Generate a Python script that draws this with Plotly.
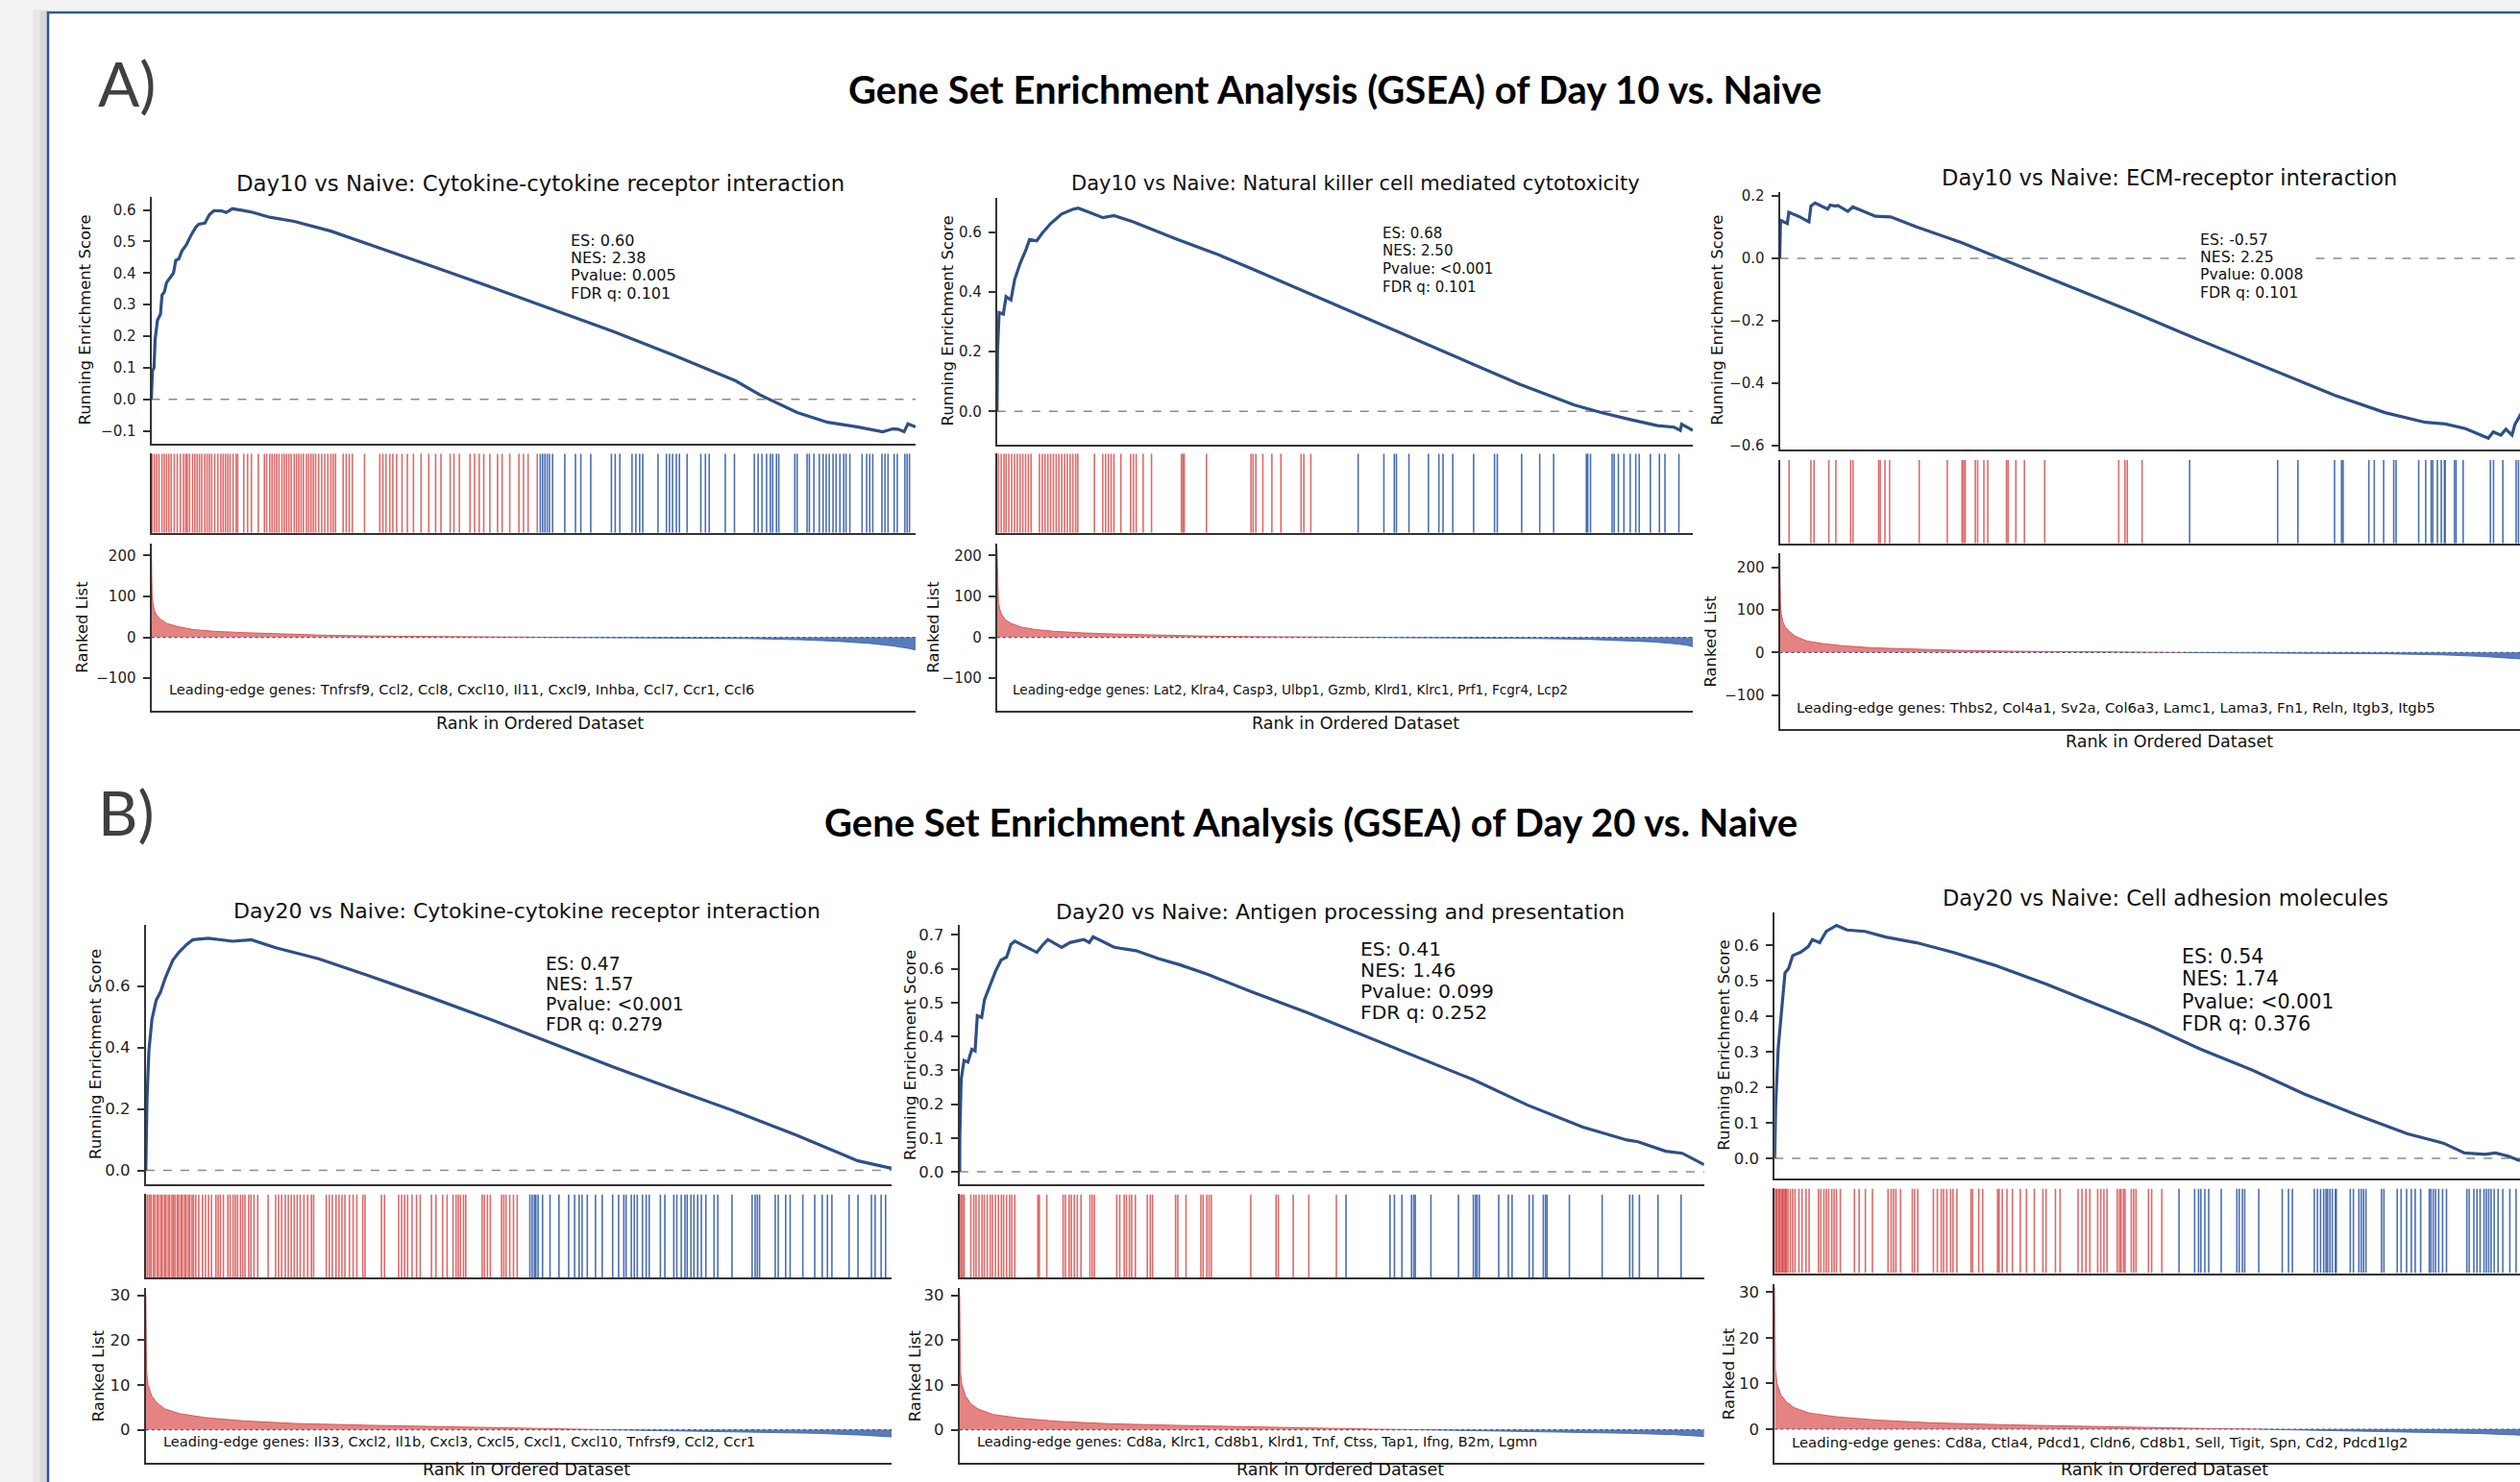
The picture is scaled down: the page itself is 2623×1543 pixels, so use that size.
import plotly.graph_objects as go

W, H = 2623, 1543

# ---------------- DATA (rank axis normalised 0-1000) ----------------
# Running enrichment score curves: (rank, ES)
A1_es = [(0, 0), (1.5, 0.09), (3.5, 0.10), (5, 0.19), (8, 0.25), (12, 0.27), (14, 0.33), (17, 0.34),
         (20, 0.37), (25, 0.385), (29, 0.40), (32, 0.44), (36, 0.445), (40, 0.47), (46, 0.49), (52, 0.52),
         (58, 0.545), (62, 0.555), (70, 0.558), (76, 0.585), (82, 0.598), (92, 0.597), (98, 0.592),
         (106, 0.604), (115, 0.600), (130, 0.594), (155, 0.577), (187, 0.564), (235, 0.533), (283, 0.493),
         (363, 0.425), (443, 0.357), (524, 0.286), (604, 0.215), (684, 0.139), (764, 0.059), (797, 0.013),
         (845, -0.042), (885, -0.073), (925, -0.088), (957, -0.103), (970, -0.094), (977, -0.095),
         (985, -0.103), (990, -0.078), (1000, -0.088)]
A2_es = [(0, 0), (0.7, 0.203), (3, 0.331), (9, 0.326), (13, 0.385), (20, 0.374), (25.4, 0.443),
         (33.3, 0.497), (41.2, 0.540), (46.8, 0.577), (57, 0.572), (65, 0.598), (77, 0.630), (92.8, 0.662),
         (108.6, 0.678), (116.5, 0.682), (132.4, 0.668), (152.3, 0.650), (168, 0.657), (195.8, 0.636),
         (259, 0.577), (314.7, 0.529), (370, 0.475), (433.6, 0.411), (512.9, 0.331), (592, 0.251),
         (671.5, 0.171), (750.8, 0.091), (830, 0.021), (869.6, -0.005), (909, -0.027), (949, -0.048),
         (973, -0.053), (982, -0.064), (984, -0.043), (1000, -0.064)]
A3_es = [(0, 0), (1, 0.122), (9.7, 0.112), (11.6, 0.148), (25.9, 0.133), (37.5, 0.117), (40, 0.168),
         (45.3, 0.178), (61.5, 0.158), (64.7, 0.171), (71.2, 0.168), (74.4, 0.170), (87.4, 0.151),
         (93.8, 0.165), (122.8, 0.135), (142.4, 0.133), (174.7, 0.102), (233, 0.051), (278.3, 0.005),
         (323.6, -0.041), (388.4, -0.107), (453, -0.171), (517.8, -0.240), (582.5, -0.306),
         (647.3, -0.372), (712, -0.438), (776.7, -0.494), (828.5, -0.525), (854, -0.530), (880, -0.545),
         (909.3, -0.576), (915.7, -0.556), (925.4, -0.566), (931.9, -0.547), (939.7, -0.566),
         (943.5, -0.532), (952, -0.495)]
B1_es = [(0, 0), (1.6, 0.233), (4.1, 0.389), (8.2, 0.492), (13.9, 0.554), (19.6, 0.580), (26.2, 0.627),
         (36.1, 0.684), (44.3, 0.710), (55, 0.736), (63.2, 0.751), (83.7, 0.756), (116.6, 0.746),
         (141.3, 0.751), (174.2, 0.725), (231.7, 0.689), (297.5, 0.635), (379.6, 0.565), (461.8, 0.492),
         (544, 0.415), (626.3, 0.337), (708.5, 0.264), (790.6, 0.192), (872.8, 0.114), (913.9, 0.0725),
         (955, 0.031), (1000, 0.007)]
B2_es = [(0, 0), (0.2, 0.103), (2, 0.273), (5.9, 0.329), (11.1, 0.324), (16.3, 0.362), (20.7, 0.357),
         (22.2, 0.428), (23.7, 0.461), (29.6, 0.456), (33.3, 0.508), (40.7, 0.550), (48.1, 0.592),
         (55.5, 0.625), (63, 0.634), (68.9, 0.672), (74.1, 0.681), (103.7, 0.648), (111.1, 0.669),
         (118.5, 0.686), (137, 0.663), (148.2, 0.677), (166.7, 0.686), (174.1, 0.677), (179.3, 0.694),
         (207.4, 0.663), (237, 0.653), (266.7, 0.630), (296.3, 0.611), (333.3, 0.583), (392.6, 0.531),
         (466.7, 0.470), (540.7, 0.404), (614.8, 0.338), (688.9, 0.273), (763, 0.197), (837.1, 0.132),
         (896.4, 0.094), (911.2, 0.089), (948.3, 0.061), (970.5, 0.055), (1000, 0.021)]
B3_es = [(0, 0), (1.3, 0.150), (4.6, 0.311), (8.6, 0.419), (13.2, 0.522), (17.9, 0.535), (23.1, 0.571),
         (33, 0.580), (43, 0.596), (48.2, 0.616), (57.5, 0.607), (66, 0.639), (79.2, 0.656), (92.5, 0.643),
         (115.6, 0.639), (142, 0.623), (181.6, 0.607), (228, 0.580), (280.8, 0.544), (346.9, 0.491),
         (413, 0.432), (479, 0.374), (545, 0.307), (611, 0.248), (677, 0.181), (743.3, 0.123),
         (809.3, 0.069), (855.6, 0.042), (882, 0.015), (908.3, 0.011), (921.6, 0.015), (938, 0.006),
         (953, -0.007)]

# Gene-set hit positions (rank), split by colour (positive / negative side)
A1_hits_pos = [1, 4, 7, 10, 14, 17, 20, 23, 26, 30, 34, 38, 42, 45, 47, 50, 54, 57, 60, 63, 66, 70, 73, 76,
               79, 83, 87, 91, 94, 97, 100, 103, 107, 111, 113, 121, 126, 131, 140, 148, 151, 155, 158, 161,
               164, 167, 171, 174, 177, 180, 183, 187, 190, 193, 196, 199, 203, 206, 209, 212, 215, 219, 223,
               227, 231, 235, 238, 241, 251, 255, 259, 263, 279, 299, 303, 307, 312, 316, 321, 328, 335, 343,
               353, 363, 372, 379, 391, 396, 403, 417, 423, 429, 435, 443, 453, 459, 469, 481, 487, 493, 505]
A1_hits_neg = [509, 512, 515, 518, 521, 525, 541, 555, 562, 575, 602, 607, 613, 629, 634, 639, 643, 663, 674,
               678, 682, 687, 691, 701, 719, 725, 730, 751, 763, 789, 794, 799, 805, 810, 813, 818, 821, 842,
               845, 858, 861, 867, 874, 879, 883, 887, 892, 896, 901, 906, 909, 914, 930, 936, 940, 944, 956,
               960, 964, 972, 976, 986, 989, 992]
A2_hits_pos = [2, 6, 10, 13, 17, 21, 25, 29, 33, 37, 41, 45, 49, 61, 65, 69, 73, 77, 81, 85, 89, 93, 97, 101,
               105, 109, 113, 116, 140, 152, 156, 160, 164, 168, 178, 192, 196, 200, 210, 222, 265, 267, 269,
               301, 365, 368, 372, 382, 395, 408, 437, 441, 451]
A2_hits_neg = [519, 556, 571, 574, 592, 620, 635, 641, 655, 685, 715, 719, 754, 780, 800, 847, 849, 853, 884,
               887, 893, 901, 910, 918, 923, 939, 952, 960, 980]
A3_hits_pos = [12, 40, 44, 63, 72, 91, 94, 127, 129, 135, 141, 179, 215, 234, 236, 238, 251, 254, 262, 267,
               291, 293, 303, 314, 340, 435, 443, 446, 465]
A3_hits_neg = [526, 639, 665, 712, 721, 723, 756, 763, 775, 788, 791, 820, 829, 836, 838, 844, 849, 853, 854,
               866, 868, 877, 912, 916, 928, 945, 948]
B1_hits_pos = [0, 2.5, 5, 7, 10, 12, 15, 17, 20, 22, 25, 27, 30, 32, 35, 37, 39, 42, 44, 47, 49, 52, 54, 57,
               59, 62, 64, 67, 71, 76, 80, 84, 88, 94, 97, 100, 104, 110, 113, 117, 120, 123, 127, 130, 133,
               138, 141, 145, 150, 164, 174, 178, 182, 187, 191, 195, 199, 203, 207, 212, 217, 222, 225, 242,
               246, 250, 255, 259, 263, 267, 273, 278, 283, 291, 294, 316, 320, 339, 343, 347, 351, 357, 363,
               368, 383, 389, 398, 404, 412, 416, 419, 422, 426, 429, 451, 454, 458, 462, 477, 480, 483, 488,
               493, 498]
B1_hits_neg = [515, 518, 521, 523, 526, 532, 542, 554, 567, 575, 581, 585, 592, 603, 612, 626, 634, 641, 644,
               651, 655, 659, 666, 671, 675, 690, 696, 708, 712, 718, 723, 726, 731, 735, 740, 745, 751, 762,
               767, 786, 813, 817, 820, 823, 844, 848, 858, 864, 881, 897, 907, 914, 920, 943, 955, 973, 978,
               986, 992]
B2_hits_pos = [0, 2, 4, 6, 15, 19, 22, 26, 30, 33, 37, 41, 44, 48, 52, 56, 59, 63, 67, 70, 74, 105, 107, 117,
               139, 142, 147, 150, 154, 158, 163, 175, 178, 181, 211, 215, 221, 224, 228, 231, 236, 252, 256,
               259, 290, 293, 304, 324, 327, 332, 335, 338, 391, 425, 428, 448, 469, 506]
B2_hits_neg = [519, 578, 584, 594, 607, 610, 612, 633, 670, 690, 693, 695, 698, 724, 737, 742, 765, 770, 784,
               787, 789, 819, 863, 900, 904, 913, 938, 969]
B3_hits_pos = [1, 2, 3, 5, 6, 7, 9, 10, 11, 13, 14, 15, 17, 20, 23, 26, 31, 35, 40, 44, 56, 59, 63, 66, 69,
               73, 76, 79, 84, 102, 108, 116, 125, 145, 149, 152, 155, 161, 176, 179, 183, 203, 208, 213, 216,
               220, 225, 228, 233, 251, 253, 261, 266, 285, 287, 291, 297, 304, 314, 322, 332, 343, 347, 359,
               365, 388, 393, 398, 403, 413, 417, 421, 425, 438, 441, 443, 446, 448, 456, 459, 462, 478, 482,
               495]
B3_hits_neg = [517, 537, 542, 545, 550, 555, 571, 591, 594, 598, 601, 619, 649, 657, 662, 690, 694, 698, 702,
               705, 707, 710, 713, 717, 718, 736, 740, 747, 750, 753, 756, 776, 779, 796, 801, 808, 814, 819,
               826, 837, 839, 842, 845, 849, 854, 859, 885, 888, 894, 898, 902, 907, 910, 913, 916, 920, 925,
               931, 940, 948]

# Ranked-list metric curves: (rank, value)
A1_rl = [(0, 215), (0.5, 150), (1, 105), (2, 85), (4, 65), (7, 54), (12, 44), (20, 34), (35, 26), (55, 19),
         (80, 15), (120, 11.5), (170, 8), (230, 5), (300, 3), (380, 1.5), (450, 0.6), (520, 0), (600, -0.6),
         (700, -1.5), (780, -3), (850, -6), (900, -10), (940, -15), (970, -21), (990, -27), (1000, -31)]
A2_rl = [(0, 215), (0.5, 150), (1, 110), (2, 85), (4, 68), (7, 55), (12, 43), (20, 34), (35, 25), (55, 19),
         (80, 15), (120, 11), (170, 8), (230, 5), (300, 3), (380, 1.5), (450, 0.6), (520, 0), (600, -0.6),
         (700, -1.5), (780, -3), (850, -5), (900, -8), (940, -11), (970, -15), (990, -19), (1000, -23)]
A3_rl = [(0, 230), (0.5, 160), (1, 115), (2, 90), (4, 72), (7, 60), (12, 50), (20, 38), (35, 27), (55, 21),
         (80, 16), (120, 11), (170, 8), (230, 5), (300, 3), (380, 1.5), (450, 0.6), (520, 0), (600, -0.6),
         (700, -1.5), (780, -3), (850, -5.5), (900, -9), (952, -15)]
B1_rl = [(0, 30), (0.5, 17), (1, 13), (3, 10), (8, 7.5), (15, 6), (25, 4.7), (45, 3.6), (80, 2.7), (130, 2.0),
         (200, 1.4), (300, 1.0), (400, 0.7), (460, 0.5), (560, 0.2), (620, 0), (700, -0.2), (800, -0.45),
         (900, -0.8), (960, -1.2), (1000, -1.6)]
B2_rl = [(0, 30), (0.5, 17), (1, 13), (3, 10), (8, 7.5), (15, 5.8), (25, 4.6), (45, 3.4), (80, 2.6),
         (130, 1.9), (200, 1.35), (300, 0.95), (400, 0.6), (480, 0.35), (560, 0.12), (620, 0), (700, -0.2),
         (800, -0.45), (900, -0.8), (960, -1.1), (1000, -1.5)]
B3_rl = [(0, 31), (0.5, 18), (1, 13), (3, 10), (8, 7.5), (15, 6), (25, 4.7), (45, 3.5), (80, 2.7), (130, 2.0),
         (200, 1.4), (300, 0.95), (400, 0.6), (480, 0.35), (560, 0.12), (620, 0), (700, -0.25), (800, -0.55),
         (900, -0.95), (953, -1.3)]

# Text content
titles = ["Day10 vs Naive: Cytokine-cytokine receptor interaction",
          "Day10 vs Naive: Natural killer cell mediated cytotoxicity",
          "Day10 vs Naive: ECM-receptor interaction",
          "Day20 vs Naive: Cytokine-cytokine receptor interaction",
          "Day20 vs Naive: Antigen processing and presentation",
          "Day20 vs Naive: Cell adhesion molecules"]
stats = [["ES: 0.60", "NES: 2.38", "Pvalue: 0.005", "FDR q: 0.101"],
         ["ES: 0.68", "NES: 2.50", "Pvalue: <0.001", "FDR q: 0.101"],
         ["ES: -0.57", "NES: 2.25", "Pvalue: 0.008", "FDR q: 0.101"],
         ["ES: 0.47", "NES: 1.57", "Pvalue: <0.001", "FDR q: 0.279"],
         ["ES: 0.41", "NES: 1.46", "Pvalue: 0.099", "FDR q: 0.252"],
         ["ES: 0.54", "NES: 1.74", "Pvalue: <0.001", "FDR q: 0.376"]]
genes = ["Leading-edge genes: Tnfrsf9, Ccl2, Ccl8, Cxcl10, Il11, Cxcl9, Inhba, Ccl7, Ccr1, Ccl6",
         "Leading-edge genes: Lat2, Klra4, Casp3, Ulbp1, Gzmb, Klrd1, Klrc1, Prf1, Fcgr4, Lcp2",
         "Leading-edge genes: Thbs2, Col4a1, Sv2a, Col6a3, Lamc1, Lama3, Fn1, Reln, Itgb3, Itgb5",
         "Leading-edge genes: Il33, Cxcl2, Il1b, Cxcl3, Cxcl5, Cxcl1, Cxcl10, Tnfrsf9, Ccl2, Ccr1",
         "Leading-edge genes: Cd8a, Klrc1, Cd8b1, Klrd1, Tnf, Ctss, Tap1, Ifng, B2m, Lgmn",
         "Leading-edge genes: Cd8a, Ctla4, Pdcd1, Cldn6, Cd8b1, Sell, Tigit, Spn, Cd2, Pdcd1lg2"]
es_ticks = [[-0.1, 0.0, 0.1, 0.2, 0.3, 0.4, 0.5, 0.6],
            [0.0, 0.2, 0.4, 0.6],
            [-0.6, -0.4, -0.2, 0.0, 0.2],
            [0.0, 0.2, 0.4, 0.6],
            [0.0, 0.1, 0.2, 0.3, 0.4, 0.5, 0.6, 0.7],
            [0.0, 0.1, 0.2, 0.3, 0.4, 0.5, 0.6]]
rl_ticks = [[-100, 0, 100, 200]] * 3 + [[0, 10, 20, 30]] * 3
main_titles = ["Gene Set Enrichment Analysis (GSEA) of Day 10 vs. Naive",
               "Gene Set Enrichment Analysis (GSEA) of Day 20 vs. Naive"]

# ---------------- LAYOUT / STYLE (pixel geometry) ----------------
geo = [
    dict(x0=157.5, x1=953, xmax=1000, es_y=(202, 461), es_r=(-0.142, 0.642), hit_y=(471, 554),
         rl_y=(565, 740), rl_r=(-179, 230), title=(562, 188, 22.8), st=(592, 248, 18.3, 16),
         gn=(173.5, 718, 14.6), res=(89, 331.5), rll=(86, 652.5), xl=(562, 753), lf=17.5, tf=15, bg=False),
    dict(x0=1037.8, x1=1762, xmax=1000, es_y=(202.7, 461.7), es_r=(-0.112, 0.718), hit_y=(471, 554),
         rl_y=(565, 740), rl_r=(-179, 230), title=(1411, 188, 21), st=(1437, 240, 18.9, 15),
         gn=(1052, 718, 13.6), res=(987, 332.5), rll=(972, 652.5), xl=(1411, 753), lf=17.5, tf=15, bg=False),
    dict(x0=1852.5, x1=W, xmax=950, es_y=(196.7, 466.7), es_r=(-0.612, 0.214), hit_y=(477.7, 565),
         rl_y=(575.7, 759.3), rl_r=(-179, 232), title=(2258, 181.7, 22.6), st=(2288, 246.7, 18.4, 15.7),
         gn=(1868, 736.7, 14.8), res=(1788, 331.7), rll=(1781, 667.5), xl=(2258, 773), lf=17.5, tf=15, bg=True),
    dict(x0=151.8, x1=928, xmax=1000, es_y=(965, 1236), es_r=(-0.0445, 0.798), hit_y=(1246.7, 1334),
         rl_y=(1345, 1528.3), rl_r=(-7.46, 31.6), title=(548.5, 950, 22), st=(566, 1005, 21.1, 18.7),
         gn=(167.7, 1506, 14.5), res=(99, 1100.5), rll=(102, 1436.7), xl=(548, 1535), lf=17.5, tf=16.5, bg=False),
    dict(x0=998.9, x1=1773.8, xmax=1000, es_y=(965, 1236), es_r=(-0.036, 0.728), hit_y=(1246.7, 1334),
         rl_y=(1345, 1528.3), rl_r=(-7.46, 31.6), title=(1395, 950.7, 22), st=(1414, 990, 22, 20.3),
         gn=(1015, 1506, 14.4), res=(947, 1100.5), rll=(952, 1436.7), xl=(1395, 1535), lf=17.5, tf=16.5, bg=False),
    dict(x0=1847.2, x1=W, xmax=953, es_y=(951.7, 1230), es_r=(-0.0565, 0.692), hit_y=(1240.7, 1329.3),
         rl_y=(1340.7, 1528.3), rl_r=(-7.45, 31.8), title=(2254, 936.7, 22.5), st=(2269, 998, 23.3, 20.6),
         gn=(1863, 1506, 14.8), res=(1795, 1091), rll=(1799, 1434.5), xl=(2253, 1535), lf=17.5, tf=16.5, bg=False),
]
es_data = [A1_es, A2_es, A3_es, B1_es, B2_es, B3_es]
hits_pos = [A1_hits_pos, A2_hits_pos, A3_hits_pos, B1_hits_pos, B2_hits_pos, B3_hits_pos]
hits_neg = [A1_hits_neg, A2_hits_neg, A3_hits_neg, B1_hits_neg, B2_hits_neg, B3_hits_neg]
rl_data = [A1_rl, A2_rl, A3_rl, B1_rl, B2_rl, B3_rl]

FONT = "DejaVu Sans"
ES_COLOR = "#2f4f86"
RED_HIT = "rgba(216,80,80,0.85)"
BLUE_HIT = "rgba(55,95,170,0.9)"
RED_FILL = "rgba(222,100,100,0.8)"
BLUE_FILL = "rgba(60,100,175,0.85)"
SPINE = "#333333"


def px(x):
    return x / W


def py(y):
    return 1 - y / H


def unzip(pairs):
    return [p[0] for p in pairs], [p[1] for p in pairs]


def vlines(ranks):
    xs, ys = [], []
    for r in ranks:
        xs += [r, r, None]
        ys += [0, 1, None]
    return xs, ys


fig = go.Figure()
layout = {}
shapes = []
annotations = []

# Page background, slide border and left shadow
shapes.append(dict(type="rect", xref="paper", yref="paper", x0=px(34), x1=px(50), y0=-0.01, y1=py(6),
                   fillcolor="#e6e6e6", line=dict(width=0), layer="below"))
shapes.append(dict(type="rect", xref="paper", yref="paper", x0=px(42), x1=px(50), y0=-0.01, y1=py(8),
                   fillcolor="#d9d9d9", line=dict(width=0), layer="below"))
shapes.append(dict(type="rect", xref="paper", yref="paper", x0=px(50), x1=1.01, y0=-0.01, y1=py(9),
                   fillcolor="white", line=dict(color="#2f5597", width=2.5), layer="below"))


def ax_name(k):
    return ("x" if k == 1 else f"x{k}"), ("y" if k == 1 else f"y{k}")


for i, g in enumerate(geo):
    ks = [3 * i + 1, 3 * i + 2, 3 * i + 3]
    ydoms = [g["es_y"], g["hit_y"], g["rl_y"]]
    for j, k in enumerate(ks):
        xa, ya = ax_name(k)
        xkey = "xaxis" if k == 1 else f"xaxis{k}"
        ykey = "yaxis" if k == 1 else f"yaxis{k}"
        layout[xkey] = dict(domain=[px(g["x0"]), min(1.0, px(g["x1"]))], range=[0, g["xmax"]], anchor=ya,
                            showline=True, linecolor=SPINE, linewidth=2, showticklabels=False, ticks="",
                            showgrid=False, zeroline=False, fixedrange=True)
        yd = ydoms[j]
        yax = dict(domain=[py(yd[1]), py(yd[0])], anchor=xa, showline=True, linecolor=SPINE, linewidth=2,
                   showgrid=False, zeroline=False, fixedrange=True)
        if j == 0:
            yax.update(range=list(g["es_r"]), tickvals=es_ticks[i], tickformat=".1f", ticks="outside",
                       ticklen=7, tickwidth=1.5, tickcolor=SPINE, ticklabelstandoff=4,
                       tickfont=dict(family=FONT, size=g["tf"], color="#222"))
        elif j == 1:
            yax.update(range=[0, 1], showticklabels=False, ticks="")
        else:
            yax.update(range=list(g["rl_r"]), tickvals=rl_ticks[i], tickformat="d", ticks="outside",
                       ticklen=7, tickwidth=1.5, tickcolor=SPINE, ticklabelstandoff=4,
                       tickfont=dict(family=FONT, size=g["tf"], color="#222"))
        layout[ykey] = yax

    # --- running ES ---
    xa, ya = ax_name(ks[0])
    shapes.append(dict(type="line", xref=f"{xa} domain", x0=0, x1=1, yref=ya, y0=0, y1=0,
                       line=dict(color="#8a8a8a", width=1.5, dash="dash"), layer="below"))
    ex, ey = unzip(es_data[i])
    fig.add_trace(go.Scatter(x=ex, y=ey, mode="lines", line=dict(color=ES_COLOR, width=3.2),
                             xaxis=xa, yaxis=ya, showlegend=False, hoverinfo="skip"))

    # --- hits ---
    xa, ya = ax_name(ks[1])
    hx, hy = vlines(hits_pos[i])
    fig.add_trace(go.Scatter(x=hx, y=hy, mode="lines", line=dict(color=RED_HIT, width=1.6),
                             xaxis=xa, yaxis=ya, showlegend=False, hoverinfo="skip"))
    hx, hy = vlines(hits_neg[i])
    fig.add_trace(go.Scatter(x=hx, y=hy, mode="lines", line=dict(color=BLUE_HIT, width=1.6),
                             xaxis=xa, yaxis=ya, showlegend=False, hoverinfo="skip"))

    # --- ranked list ---
    xa, ya = ax_name(ks[2])
    rx, rv = unzip(rl_data[i])
    px_pos = [x for x, v in zip(rx, rv) if v >= 0]
    pv_pos = [v for v in rv if v >= 0]
    px_neg = [x for x, v in zip(rx, rv) if v <= 0]
    pv_neg = [v for v in rv if v <= 0]
    fig.add_trace(go.Scatter(x=px_pos, y=pv_pos, mode="lines", fill="tozeroy", fillcolor=RED_FILL,
                             line=dict(color="rgba(210,80,80,0.9)", width=1), xaxis=xa, yaxis=ya,
                             showlegend=False, hoverinfo="skip"))
    fig.add_trace(go.Scatter(x=px_neg, y=pv_neg, mode="lines", fill="tozeroy", fillcolor=BLUE_FILL,
                             line=dict(color="rgba(60,100,175,0.9)", width=1), xaxis=xa, yaxis=ya,
                             showlegend=False, hoverinfo="skip"))
    shapes.append(dict(type="line", xref=f"{xa} domain", x0=0, x1=1, yref=ya, y0=0, y1=0,
                       line=dict(color="#3d5a8a", width=1.2, dash="dot"), layer="above"))

    # --- texts ---
    tx, ty, ts = g["title"]
    annotations.append(dict(x=px(tx), y=py(ty), xref="paper", yref="paper", text=titles[i],
                            showarrow=False, xanchor="center", yanchor="middle",
                            font=dict(family=FONT, size=ts, color="#111")))
    sx, sy, sdy, sf = g["st"]
    if g["bg"]:
        shapes.append(dict(type="rect", xref="paper", yref="paper", x0=px(sx - 12), x1=px(sx + 116),
                           y0=py(sy + 3 * sdy + 10), y1=py(sy - 10), fillcolor="white",
                           line=dict(width=0), layer="below"))
    for n, line in enumerate(stats[i]):
        annotations.append(dict(x=px(sx), y=py(sy + n * sdy), xref="paper", yref="paper",
                                text=line, showarrow=False, xanchor="left", yanchor="middle",
                                font=dict(family=FONT, size=sf, color="#111")))
    gx, gy, gf = g["gn"]
    annotations.append(dict(x=px(gx), y=py(gy), xref="paper", yref="paper", text=genes[i],
                            showarrow=False, xanchor="left", yanchor="middle",
                            font=dict(family=FONT, size=gf, color="#111")))
    rx_, ry_ = g["res"]
    annotations.append(dict(x=px(rx_), y=py(ry_), xref="paper", yref="paper",
                            text="Running Enrichment Score", showarrow=False, textangle=-90,
                            xanchor="center", yanchor="middle",
                            font=dict(family=FONT, size=g["lf"] - 1, color="#111")))
    lx, ly = g["rll"]
    annotations.append(dict(x=px(lx), y=py(ly), xref="paper", yref="paper", text="Ranked List",
                            showarrow=False, textangle=-90, xanchor="center", yanchor="middle",
                            font=dict(family=FONT, size=g["lf"] - 1, color="#111")))
    xx, xy = g["xl"]
    annotations.append(dict(x=px(xx), y=py(xy), xref="paper", yref="paper", text="Rank in Ordered Dataset",
                            showarrow=False, xanchor="center", yanchor="middle",
                            font=dict(family=FONT, size=g["lf"], color="#111")))

# Section labels and main titles
annotations.append(dict(x=px(100), y=py(83), xref="paper", yref="paper", text="A)", showarrow=False,
                        xanchor="left", yanchor="middle", font=dict(family="Lato", size=64, color="#404040")))
annotations.append(dict(x=px(100), y=py(846), xref="paper", yref="paper", text="B)", showarrow=False,
                        xanchor="left", yanchor="middle", font=dict(family="Lato", size=64, color="#404040")))
annotations.append(dict(x=px(1389), y=py(90), xref="paper", yref="paper", text=f"<b>{main_titles[0]}</b>",
                        showarrow=False, xanchor="center", yanchor="middle",
                        font=dict(family="Lato", size=40, color="#000")))
annotations.append(dict(x=px(1364), y=py(857), xref="paper", yref="paper", text=f"<b>{main_titles[1]}</b>",
                        showarrow=False, xanchor="center", yanchor="middle",
                        font=dict(family="Lato", size=40, color="#000")))

fig.update_layout(width=W, height=H, margin=dict(l=0, r=0, t=0, b=0), paper_bgcolor="#f3f3f3",
                  plot_bgcolor="rgba(0,0,0,0)", showlegend=False, shapes=shapes, annotations=annotations,
                  **layout)
fig.write_html("out.html", config={"displayModeBar": False},
               post_script="document.body.style.margin='0';document.body.style.overflow='hidden';")
